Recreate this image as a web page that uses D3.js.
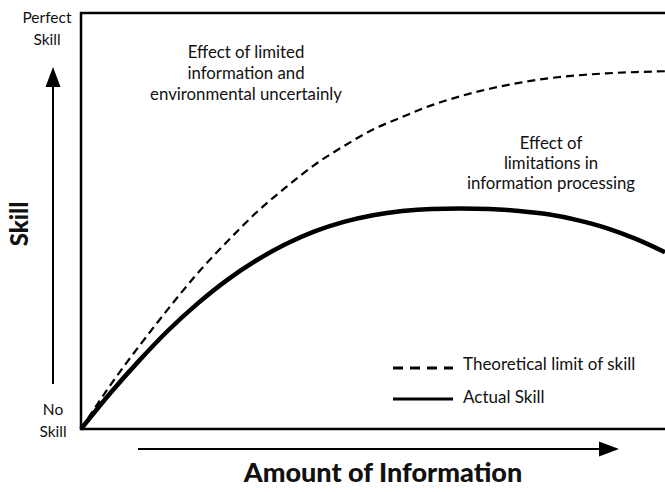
<!DOCTYPE html>
<html>
<head>
<meta charset="utf-8">
<script src="https://cdn.jsdelivr.net/npm/d3@7"></script>
<style>
  body { margin: 0; background: #fff; }
  svg { display: block; }
  text { font-family: Lato, "Open Sans", sans-serif; fill: #111; }
</style>
</head>
<body>
<svg id="chart" width="665" height="492"></svg>
<script>
// amount of information (0..10) and skill (0 = no skill, 100 = perfect skill)
const info = [0, 0.5, 1, 1.5, 2, 2.5, 3, 3.5, 4, 4.5, 5, 5.5, 6, 6.5, 7, 7.5, 8, 8.5, 9, 9.5, 10];
const theoreticalLimit = [0, 10.5, 20, 29, 37.5, 45, 52, 58, 63.5, 68, 72, 75, 77.8, 80, 81.8, 83.2, 84.3, 85, 85.5, 85.8, 86];
const actualSkill = [0, 8.6, 16.5, 23.8, 30.2, 35.8, 40.5, 44.4, 47.5, 49.8, 51.4, 52.4, 52.9, 53.0, 52.9, 52.4, 51.6, 50.2, 48.3, 45.7, 42.5];

const legendLabels = ['Theoretical limit of skill', 'Actual Skill'];
const noteLimited = ['Effect of limited', 'information and', 'environmental uncertainly'];
const noteProcessing = ['Effect of', 'limitations in', 'information processing'];

const svg = d3.select('#chart');

const x = d3.scaleLinear().domain([0, 10]).range([81, 665]);
const y = d3.scaleLinear().domain([0, 100]).range([429, 13]);

// frame (right side runs off the page)
svg.append('rect')
  .attr('x', x(0)).attr('y', y(100))
  .attr('width', 700).attr('height', y(0) - y(100))
  .attr('fill', 'none').attr('stroke', '#000').attr('stroke-width', 2.5);

const line = d3.line()
  .x(d => x(d[0]))
  .y(d => y(d[1]))
  .curve(d3.curveMonotoneX);

svg.append('path')
  .datum(d3.zip(info, theoreticalLimit))
  .attr('d', line)
  .attr('fill', 'none').attr('stroke', '#000')
  .attr('stroke-width', 2.2).attr('stroke-dasharray', '8,5');

svg.append('path')
  .datum(d3.zip(info, actualSkill))
  .attr('d', line)
  .attr('fill', 'none').attr('stroke', '#000')
  .attr('stroke-width', 4.5);

// axis arrows
svg.append('line').attr('x1', 53).attr('x2', 53).attr('y1', 384).attr('y2', 86)
  .attr('stroke', '#000').attr('stroke-width', 2);
svg.append('path').attr('d', 'M53,67L45.5,87L60.5,87Z').attr('fill', '#000');

svg.append('line').attr('x1', 138).attr('x2', 600).attr('y1', 449).attr('y2', 449)
  .attr('stroke', '#000').attr('stroke-width', 2);
svg.append('path').attr('d', 'M619,449L599,441.5L599,456.5Z').attr('fill', '#000');

// axis end labels
const ends = svg.append('g').attr('font-size', 15.5).attr('text-anchor', 'middle');
ends.append('text').attr('x', 47).attr('y', 23).text('Perfect');
ends.append('text').attr('x', 47).attr('y', 45).text('Skill');
ends.append('text').attr('x', 53).attr('y', 415).text('No');
ends.append('text').attr('x', 53).attr('y', 437).text('Skill');

svg.append('text')
  .attr('transform', 'translate(28,224) rotate(-90)')
  .attr('text-anchor', 'middle')
  .attr('font-size', 24).attr('font-weight', 900)
  .text('Skill');

svg.append('text')
  .attr('x', 383).attr('y', 482)
  .attr('text-anchor', 'middle')
  .attr('font-size', 27).attr('font-weight', 900)
  .text('Amount of Information');

// annotations
svg.append('g').attr('font-size', 16.8).attr('text-anchor', 'middle')
  .selectAll('text').data(noteLimited).join('text')
  .attr('x', 246).attr('y', (d, i) => 58 + i * 21).text(d => d);

svg.append('g').attr('font-size', 16.8).attr('text-anchor', 'middle')
  .selectAll('text').data(noteProcessing).join('text')
  .attr('x', 551).attr('y', (d, i) => 149 + i * 20).text(d => d);

// legend
const legend = svg.append('g');
legend.selectAll('line').data(legendLabels).join('line')
  .attr('x1', 393).attr('x2', 453)
  .attr('y1', (d, i) => 368 + i * 31).attr('y2', (d, i) => 368 + i * 31)
  .attr('stroke', '#000').attr('stroke-width', 3)
  .attr('stroke-dasharray', (d, i) => i === 0 ? '10,7' : null);
legend.selectAll('text').data(legendLabels).join('text')
  .attr('x', 463).attr('y', (d, i) => 370 + i * 33)
  .attr('font-size', 17)
  .text(d => d);
</script>
</body>
</html>
